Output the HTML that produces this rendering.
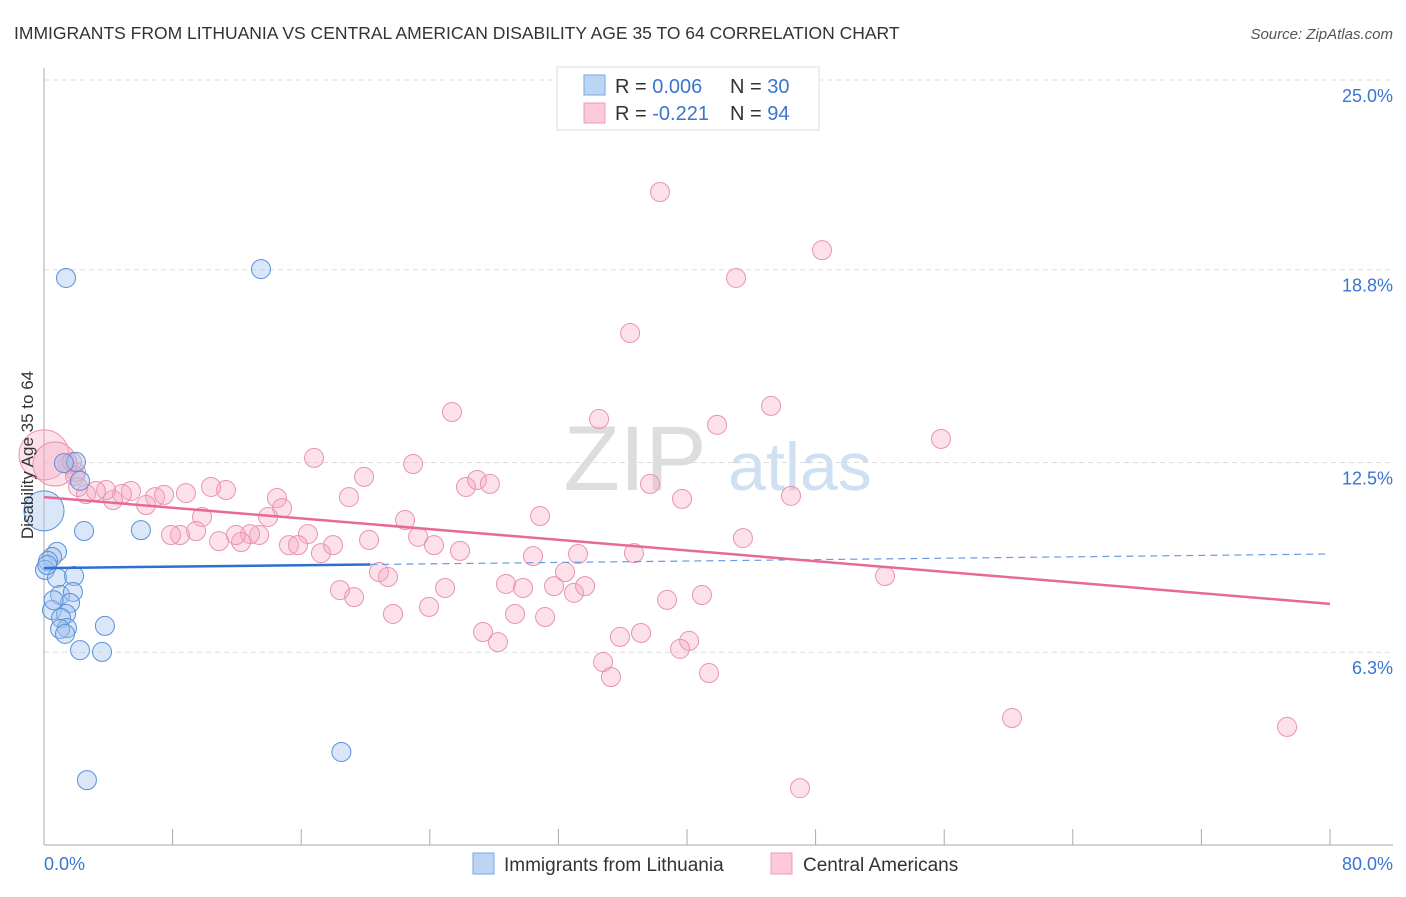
<!DOCTYPE html>
<html><head><meta charset="utf-8"><style>
body{margin:0;background:#fff;font-family:"Liberation Sans",sans-serif}
svg text{font-family:"Liberation Sans",sans-serif}
</style></head><body>
<svg width="1406" height="892" viewBox="0 0 1406 892">
<text x="14" y="39" font-size="17.5" fill="#333">IMMIGRANTS FROM LITHUANIA VS CENTRAL AMERICAN DISABILITY AGE 35 TO 64 CORRELATION CHART</text>
<text x="1393" y="39" font-size="15" fill="#555" font-style="italic" text-anchor="end">Source: ZipAtlas.com</text>
<g><text x="635" y="490" font-size="92" fill="#ddd" text-anchor="middle" font-family="Liberation Serif">ZIP</text><text x="800" y="490" font-size="68" fill="#cfe0f3" text-anchor="middle">atlas</text></g>
<g id="grid"></g><g id="axes"></g><g id="marks"></g>
<text transform="translate(33,455) rotate(-90)" font-size="17" fill="#333" text-anchor="middle">Disability Age 35 to 64</text>
<g>
<rect x="557" y="67" width="262" height="63" fill="#fff" stroke="#ddd"/>
<rect x="584" y="75" width="21" height="20" fill="#bcd5f5" stroke="#7aa6e0"/>
<rect x="584" y="103" width="21" height="20" fill="#fbc9d7" stroke="#ec9bb5"/>
<text x="615" y="93" font-size="20" fill="#333">R = <tspan fill="#3a75d0">0.006</tspan><tspan x="730">N = </tspan><tspan fill="#3a75d0">30</tspan></text>
<text x="615" y="120" font-size="20" fill="#333">R = <tspan fill="#3a75d0">-0.221</tspan><tspan x="730">N = </tspan><tspan fill="#3a75d0">94</tspan></text>
</g>
<g>
<rect x="473" y="853" width="21" height="21" fill="#bcd5f5" stroke="#7aa6e0"/>
<text x="504" y="871" font-size="19" fill="#333">Immigrants from Lithuania</text>
<rect x="771" y="853" width="21" height="21" fill="#fbc9d7" stroke="#ec9bb5"/>
<text x="803" y="871" font-size="19" fill="#333">Central Americans</text>
</g>
</svg>
<script>
const yTicks=[25.0,18.8,12.5,6.3];
const yTickLabels=["25.0%","18.8%","12.5%","6.3%"];
const xTickLabels=["0.0%","80.0%"];
const blueX=[1.37,13.5,1.99,1.24,2.24,2.49,6.03,0.81,0.50,0.25,0.06,0.81,1.87,1.0,1.80,1.62,0.50,1.37,1.06,1.43,1.0,1.31,3.79,2.24,3.61,18.5,2.67,0.0,0.2,0.6];
const blueY=[18.53,18.82,12.52,12.48,11.90,10.26,10.29,9.58,9.41,9.28,8.99,8.73,8.79,8.17,8.27,7.91,7.68,7.55,7.42,7.09,7.06,6.90,7.16,6.37,6.31,3.04,2.12,10.92,9.15,8.0];
const pinkX=[38.32,48.40,43.05,36.46,25.38,34.53,45.23,41.87,55.80,16.80,22.96,19.91,26.25,26.94,27.74,37.70,39.69,46.47,30.86,22.46,18.97,14.49,14.81,9.83,11.32,10.39,8.83,6.91,7.47,6.35,5.41,4.85,4.29,3.86,3.23,2.61,2.12,1.99,1.49,0,0.68,1.74,1.93,16.42,13.94,13.38,12.82,12.26,11.94,10.89,9.46,8.46,7.90,15.24,15.80,17.23,17.98,20.22,23.27,24.26,25.88,30.42,33.22,36.70,43.48,20.84,21.40,18.41,19.29,24.95,28.74,29.80,31.73,32.41,32.97,33.66,21.71,23.95,29.30,31.17,38.76,40.93,52.32,27.31,28.24,35.83,37.14,40.13,39.57,34.78,35.27,41.37,60.22,77.33,47.03];
const pinkY=[21.34,19.44,18.53,16.73,14.15,13.92,14.35,13.73,13.27,12.65,12.45,12.03,11.70,11.93,11.80,11.80,11.31,11.41,10.75,10.62,11.37,11.34,11.01,10.72,11.60,11.70,11.50,11.37,11.44,11.11,11.57,11.47,11.27,11.60,11.57,11.47,11.70,12.19,12.45,12.75,12.45,12.52,12.06,10.16,10.72,10.13,10.16,9.90,10.13,9.93,10.26,10.13,10.13,9.80,9.80,9.54,9.80,9.97,10.07,9.80,9.61,9.44,9.51,9.54,10.03,8.92,8.76,8.33,8.10,8.40,8.53,8.40,8.46,8.92,8.24,8.46,7.55,7.78,7.55,7.45,8.01,8.17,8.79,6.96,6.63,6.80,6.93,6.67,6.41,5.98,5.49,5.62,4.15,3.86,1.86];
const blueBig={27:20};const pinkBig={39:25,40:22};
const blueTrend=[9.05,9.51],blueSolidEnd=20.3;
const pinkTrend=[11.37,7.88];
const NS="http://www.w3.org/2000/svg";
const X0=44,X1=1330,Y0=845;
const sx=v=>X0+(v/80)*(X1-X0);
const sy=v=>Y0-v*30.6;
function mk(tag,attrs,parent){const e=document.createElementNS(NS,tag);for(const k in attrs)e.setAttribute(k,attrs[k]);document.getElementById(parent).appendChild(e);return e;}
yTicks.forEach((t,i)=>{
 const l=mk('line',{x1:44,x2:1393,y1:sy(t),y2:sy(t),stroke:'#ddd','stroke-dasharray':'5,4'},'grid');
 
 
 const tx=mk('text',{x:1393,y:sy(t)+22,'font-size':18,fill:'#3a75d0','text-anchor':'end'},'grid');
 tx.textContent=yTickLabels[i];
 
 
});
const ax=mk('line',{x1:44,x2:44,y1:68,y2:845,stroke:'#aaa'},'axes');


const bx=mk('line',{x1:44,x2:1393,y1:845,y2:845,stroke:'#aaa'},'axes');


for(let i=0;i<=10;i++){const t=mk('line',{x1:sx(i*8),x2:sx(i*8),y1:829,y2:845,stroke:'#aaa'},'axes');
 
 }
[[0,'start',44],[80,'end',1393]].forEach((d,i)=>{const t=mk('text',{x:d[2],y:870,'font-size':18,fill:'#3a75d0','text-anchor':d[1]},'axes');t.textContent=xTickLabels[i];
 
 });
pinkX.forEach((x,i)=>{const c=mk('circle',{cx:sx(x),cy:sy(pinkY[i]),r:pinkBig[i]||9.5,fill:'rgba(246,170,195,0.35)',stroke:'#ea93b0','stroke-width':1},'marks');
 
 });
blueX.forEach((x,i)=>{const c=mk('circle',{cx:sx(x),cy:sy(blueY[i]),r:blueBig[i]||9.5,fill:'rgba(160,195,240,0.4)',stroke:'#5a90d8','stroke-width':1},'marks');
 
 });
const bv=x=>blueTrend[0]+(blueTrend[1]-blueTrend[0])*x/80;
let l1=mk('line',{x1:sx(0),y1:sy(bv(0)),x2:sx(blueSolidEnd),y2:sy(bv(blueSolidEnd)),stroke:'#2f6fd0','stroke-width':2.5},'marks');


let l2=mk('line',{x1:sx(blueSolidEnd),y1:sy(bv(blueSolidEnd)),x2:sx(80),y2:sy(bv(80)),stroke:'#6a9be0','stroke-width':1.2,'stroke-dasharray':'7,5'},'marks');


let l3=mk('line',{x1:sx(0),y1:sy(pinkTrend[0]),x2:sx(80),y2:sy(pinkTrend[1]),stroke:'#e8689a','stroke-width':2.5},'marks');


</script>
</body></html>
